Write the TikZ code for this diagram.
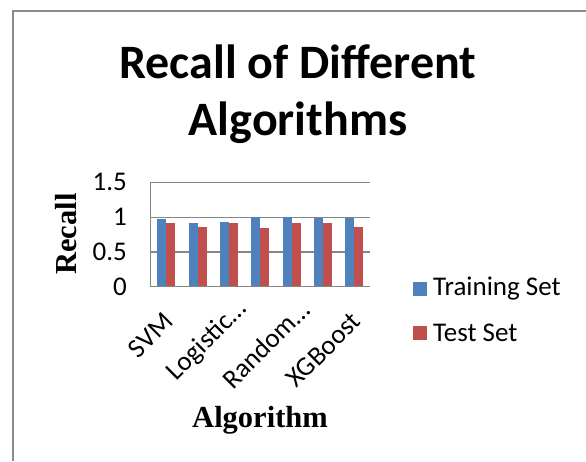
\documentclass[tikz,border=0pt]{standalone}
\usepackage{fontspec}
\setmainfont{Carlito}
\newfontfamily\axisfont{Liberation Serif}
\usepackage{xcolor}
\usepackage{tikz}
\usetikzlibrary{positioning}
\definecolor{trainblue}{HTML}{4F81BD}
\definecolor{testred}{HTML}{C0504D}
\definecolor{gridgray}{HTML}{868686}
\definecolor{framegray}{HTML}{8C8C8C}

\begin{document}
\begin{tikzpicture}[x=1pt,y=-1pt,
    ticklabel/.style={font=\fontsize{27}{27}\selectfont,inner sep=0pt},
    axistitle/.style={font=\axisfont\bfseries\fontsize{30.5}{30.5}\selectfont,inner sep=0pt},
    legendbox/.style={minimum size=13.5pt,inner sep=0pt}]
    \useasboundingbox (0,0) rectangle (586,461);
    \draw[framegray,line width=1.5pt] (13,461) -- (13,11) -- (586,11);
    % title
    \node[font=\bfseries\fontsize{48}{57}\selectfont,align=center,inner sep=0pt] (title) at (298,94) {Recall of Different\\Algorithms};
    % grid and y labels
    \foreach \v/\lab [count=\i] in {0/0,0.5/0.5,1/1,1.5/1.5} {
      \draw[gridgray,line width=1.2pt] (150.7,286.7-69.6*\v) -- (370,286.7-69.6*\v);
      \node[ticklabel,anchor=east] (ytick\i) at (127,286.7-69.6*\v) {\lab};
    }
    % bars
    \foreach \tr/\te [count=\i] in {0.97/0.92,0.91/0.86,0.93/0.92,1.00/0.84,1.00/0.92,0.99/0.92,0.99/0.86} {
      \pgfmathsetmacro\cx{150.7+31.3*(\i-0.5)}
      \fill[trainblue] (\cx-9,286.7) rectangle (\cx,286.7-69.6*\tr);
      \fill[testred] (\cx,286.7) rectangle (\cx+9,286.7-69.6*\te);
    }
    \draw[gridgray,line width=1.2pt] (150.7,182.1) -- (150.7,286.7) -- (370,286.7);
    % category labels
    \foreach \lx/\ly/\lab [count=\i] in {168.4/317/SVM,242.5/305.5/Logistic\ldots,305/305.5/Random\ldots,356.2/317/XGBoost} {
      \node[ticklabel,anchor=east,rotate=45] (xlab\i) at (\lx,\ly) {\lab};
    }
    % axis titles
    \node[axistitle,rotate=90] (ytitle) at (66,234) {Recall};
    \node[axistitle] (xtitle) at (260,420) {Algorithm};
    % legend
    \node[legendbox,fill=trainblue] (keytrain) at (420,289) {};
    \node[ticklabel,right=6pt of keytrain] (labtrain) {Training Set};
    \node[legendbox,fill=testred] (keytest) at (420,333) {};
    \node[ticklabel,right=6pt of keytest] (labtest) {Test Set};
\end{tikzpicture}
\end{document}
